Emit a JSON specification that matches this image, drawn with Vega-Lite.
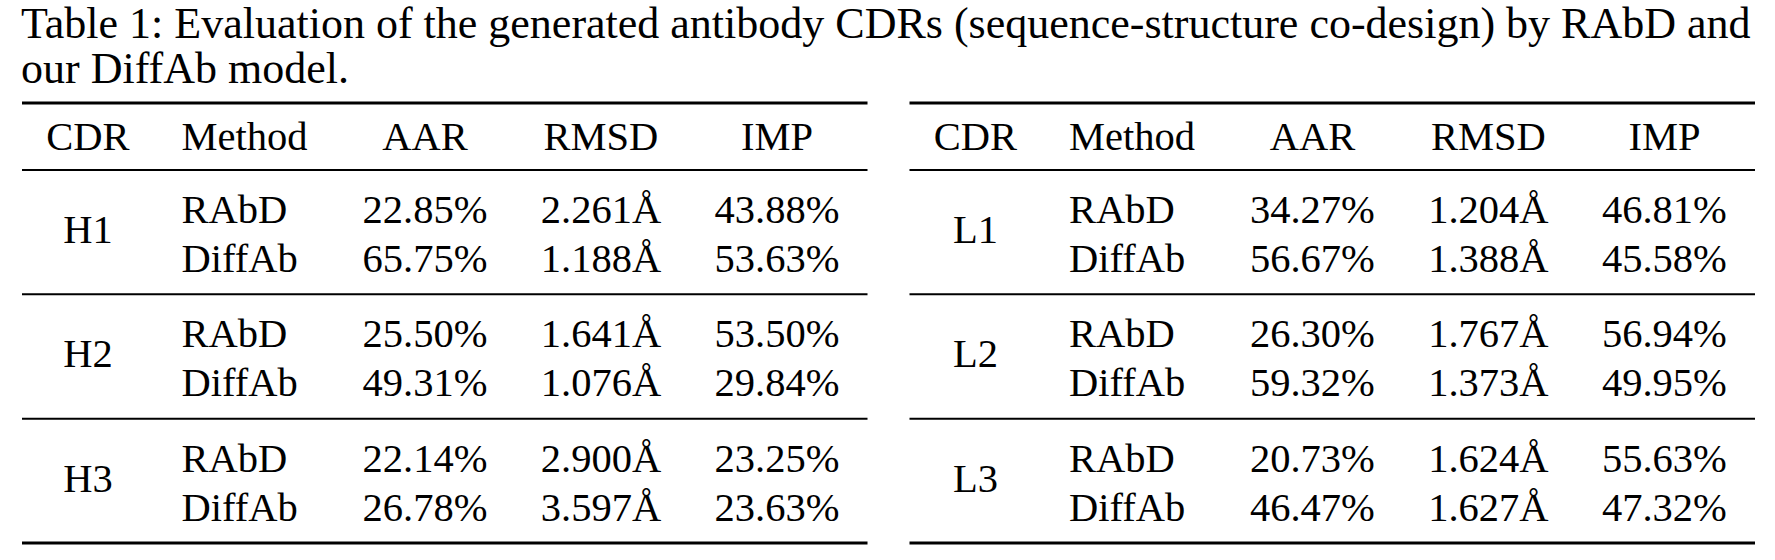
{
  "$schema": "https://vega.github.io/schema/vega-lite/v6.json",
  "width": 1775,
  "height": 560,
  "autosize": "none",
  "padding": 0,
  "background": "white",
  "config": {
    "view": {"stroke": null},
    "text": {"font": "Liberation Serif", "fontSize": 40.5, "color": "black", "baseline": "alphabetic"},
    "rule": {"color": "black"}
  },
  "data": {
    "values": [
      {"chain": "H", "loop": 1, "cdr": "H1", "method": "RAbD", "AAR": 22.85, "RMSD": 2.261, "IMP": 43.88},
      {"chain": "H", "loop": 1, "cdr": "H1", "method": "DiffAb", "AAR": 65.75, "RMSD": 1.188, "IMP": 53.63},
      {"chain": "H", "loop": 2, "cdr": "H2", "method": "RAbD", "AAR": 25.50, "RMSD": 1.641, "IMP": 53.50},
      {"chain": "H", "loop": 2, "cdr": "H2", "method": "DiffAb", "AAR": 49.31, "RMSD": 1.076, "IMP": 29.84},
      {"chain": "H", "loop": 3, "cdr": "H3", "method": "RAbD", "AAR": 22.14, "RMSD": 2.900, "IMP": 23.25},
      {"chain": "H", "loop": 3, "cdr": "H3", "method": "DiffAb", "AAR": 26.78, "RMSD": 3.597, "IMP": 23.63},
      {"chain": "L", "loop": 1, "cdr": "L1", "method": "RAbD", "AAR": 34.27, "RMSD": 1.204, "IMP": 46.81},
      {"chain": "L", "loop": 1, "cdr": "L1", "method": "DiffAb", "AAR": 56.67, "RMSD": 1.388, "IMP": 45.58},
      {"chain": "L", "loop": 2, "cdr": "L2", "method": "RAbD", "AAR": 26.30, "RMSD": 1.767, "IMP": 56.94},
      {"chain": "L", "loop": 2, "cdr": "L2", "method": "DiffAb", "AAR": 59.32, "RMSD": 1.373, "IMP": 49.95},
      {"chain": "L", "loop": 3, "cdr": "L3", "method": "RAbD", "AAR": 20.73, "RMSD": 1.624, "IMP": 55.63},
      {"chain": "L", "loop": 3, "cdr": "L3", "method": "DiffAb", "AAR": 46.47, "RMSD": 1.627, "IMP": 47.32}
    ]
  },
  "layer": [
    {
      "transform": [{"filter": "datum.chain === 'H' && datum.loop === 1 && datum.method === 'RAbD'"}],
      "mark": {"type": "text", "align": "left", "fontSize": 44, "lineHeight": 45, "dx": -1},
      "encoding": {
        "x": {"field": "chain", "type": "nominal", "bandPosition": 0, "scale": {"type": "band", "domain": ["H", "L"], "range": [22, 1755], "paddingInner": 0.0473, "paddingOuter": 0}, "axis": null},
        "y": {"field": "loop", "type": "ordinal", "bandPosition": -1.058, "scale": {"type": "band", "domain": [1, 2, 3], "range": [170, 543], "paddingInner": 0, "paddingOuter": 0}, "axis": null},
        "text": {"value": ["Table 1: Evaluation of the generated antibody CDRs (sequence-structure co-design) by RAbD and", "our DiffAb model."]}
      }
    },
    {
      "transform": [{"filter": "datum.loop === 1 && datum.method === 'RAbD'"}],
      "mark": {"type": "rule", "strokeWidth": 3},
      "encoding": {
        "x": {"field": "chain", "type": "nominal", "bandPosition": 0},
        "x2": {"field": "chain", "bandPosition": 1},
        "y": {"field": "loop", "type": "ordinal", "bandPosition": -0.539}
      }
    },
    {
      "transform": [{"filter": "datum.loop === 1 && datum.method === 'RAbD'"}],
      "mark": {"type": "rule", "strokeWidth": 2},
      "encoding": {
        "x": {"field": "chain", "type": "nominal", "bandPosition": 0},
        "x2": {"field": "chain", "bandPosition": 1},
        "y": {"field": "loop", "type": "ordinal", "bandPosition": 0}
      }
    },
    {
      "transform": [{"filter": "datum.method === 'RAbD'"}],
      "mark": {"type": "rule"},
      "encoding": {
        "x": {"field": "chain", "type": "nominal", "bandPosition": 0},
        "x2": {"field": "chain", "bandPosition": 1},
        "y": {"field": "loop", "type": "ordinal", "bandPosition": 1},
        "strokeWidth": {"condition": {"test": "datum.loop === 3", "value": 3}, "value": 2}
      }
    },
    {
      "transform": [{"filter": "datum.loop === 1 && datum.method === 'RAbD'"}],
      "mark": {"type": "text", "align": "center", "dx": 15},
      "encoding": {
        "x": {"field": "chain", "type": "nominal"},
        "xOffset": {"datum": "CDR", "scale": {"type": "point", "domain": ["CDR", "Method", "AAR", "RMSD", "IMP"], "padding": 0.402, "align": 0.36}},
        "y": {"field": "loop", "type": "ordinal", "bandPosition": -0.161},
        "text": {"value": "CDR"}
      }
    },
    {
      "transform": [{"filter": "datum.loop === 1 && datum.method === 'RAbD'"}],
      "mark": {"type": "text", "align": "left", "dx": -67.5},
      "encoding": {
        "x": {"field": "chain", "type": "nominal"},
        "xOffset": {"datum": "Method"},
        "y": {"field": "loop", "type": "ordinal", "bandPosition": -0.161},
        "text": {"value": "Method"}
      }
    },
    {
      "transform": [
        {"filter": "datum.loop === 1 && datum.method === 'RAbD'"},
        {"fold": ["AAR", "RMSD", "IMP"], "as": ["metric", "value"]}
      ],
      "mark": {"type": "text", "align": "center"},
      "encoding": {
        "x": {"field": "chain", "type": "nominal"},
        "xOffset": {"field": "metric", "type": "nominal"},
        "y": {"field": "loop", "type": "ordinal", "bandPosition": -0.161},
        "text": {"field": "metric", "type": "nominal"}
      }
    },
    {
      "transform": [{"filter": "datum.method === 'RAbD'"}],
      "mark": {"type": "text", "align": "center", "dx": 15},
      "encoding": {
        "x": {"field": "chain", "type": "nominal"},
        "xOffset": {"datum": "CDR"},
        "y": {"field": "loop", "type": "ordinal", "bandPosition": 0.587},
        "text": {"field": "cdr", "type": "nominal"}
      }
    },
    {
      "mark": {"type": "text", "align": "left", "dx": -67.5},
      "encoding": {
        "x": {"field": "chain", "type": "nominal"},
        "xOffset": {"datum": "Method"},
        "y": {"field": "loop", "type": "ordinal", "bandPosition": 0},
        "yOffset": {"field": "method", "type": "nominal", "scale": {"type": "point", "domain": ["RAbD", "DiffAb"], "padding": 0.768, "align": 0.704}},
        "text": {"field": "method", "type": "nominal"}
      }
    },
    {
      "transform": [
        {"fold": ["AAR", "RMSD", "IMP"], "as": ["metric", "value"]},
        {"calculate": "datum.metric === 'RMSD' ? format(datum.value, '.3f') + 'Å' : format(datum.value, '.2f') + '%'", "as": "label"}
      ],
      "mark": {"type": "text", "align": "center"},
      "encoding": {
        "x": {"field": "chain", "type": "nominal"},
        "xOffset": {"field": "metric", "type": "nominal"},
        "y": {"field": "loop", "type": "ordinal", "bandPosition": 0},
        "yOffset": {"field": "method", "type": "nominal"},
        "text": {"field": "label", "type": "nominal"}
      }
    }
  ]
}
